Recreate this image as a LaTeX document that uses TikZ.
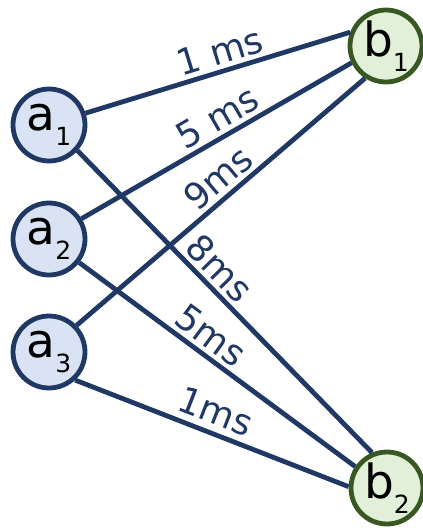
\documentclass[tikz,border=0pt]{standalone}
\usepackage{fontspec}
\setmainfont{DejaVu Sans}
\definecolor{navy}{HTML}{203864}
\definecolor{afill}{HTML}{DAE3F3}
\definecolor{bfill}{HTML}{E2F0D9}
\definecolor{bdraw}{HTML}{385723}
\newcommand{\nsub}[1]{\raisebox{-15pt}{\fontsize{25}{25}\selectfont #1}}
\begin{document}
\begin{tikzpicture}[x=1pt,y=-1pt,
  vnode/.style={circle, line width=4.8pt, minimum size=72pt, inner sep=0pt,
    font=\fontsize{47}{47}\selectfont},
  anode/.style={vnode, draw=navy, fill=afill},
  bnode/.style={vnode, draw=bdraw, fill=bfill},
  edge/.style={draw=navy, line width=4.8pt},
  lbl/.style={sloped, anchor=south, inner xsep=0pt, inner ysep=4pt, text=navy,
    font=\fontsize{36}{36}\selectfont}]
\useasboundingbox (0,0) rectangle (423,528);
\node[anode] (a1) at (49,125) {a\nsub{1}};
\node[anode] (a2) at (49,239) {a\nsub{2}};
\node[anode] (a3) at (49,352) {a\nsub{3}};
\node[bnode] (b1) at (386,46) {b\nsub{1}};
\node[bnode] (b2) at (387,488) {b\nsub{2}};
\draw[edge] (a1.18)  -- node[lbl, pos=0.53] {1 ms} (b1.159);
\draw[edge] (a2.32)  -- node[lbl, pos=0.54] {5 ms} (b1.206);
\draw[edge] (a3.44)  -- node[lbl, pos=0.535] {9ms} (b1.237);
\draw[edge] (a1.-42) -- node[lbl, pos=0.435] {8ms} (b2.113);
\draw[edge] (a2.-38) -- node[lbl, pos=0.435] {5ms} (b2.146);
\draw[edge] (a3.-47) -- node[lbl, pos=0.485, inner ysep=6pt] {1ms} (b2.178);
\end{tikzpicture}
\end{document}
